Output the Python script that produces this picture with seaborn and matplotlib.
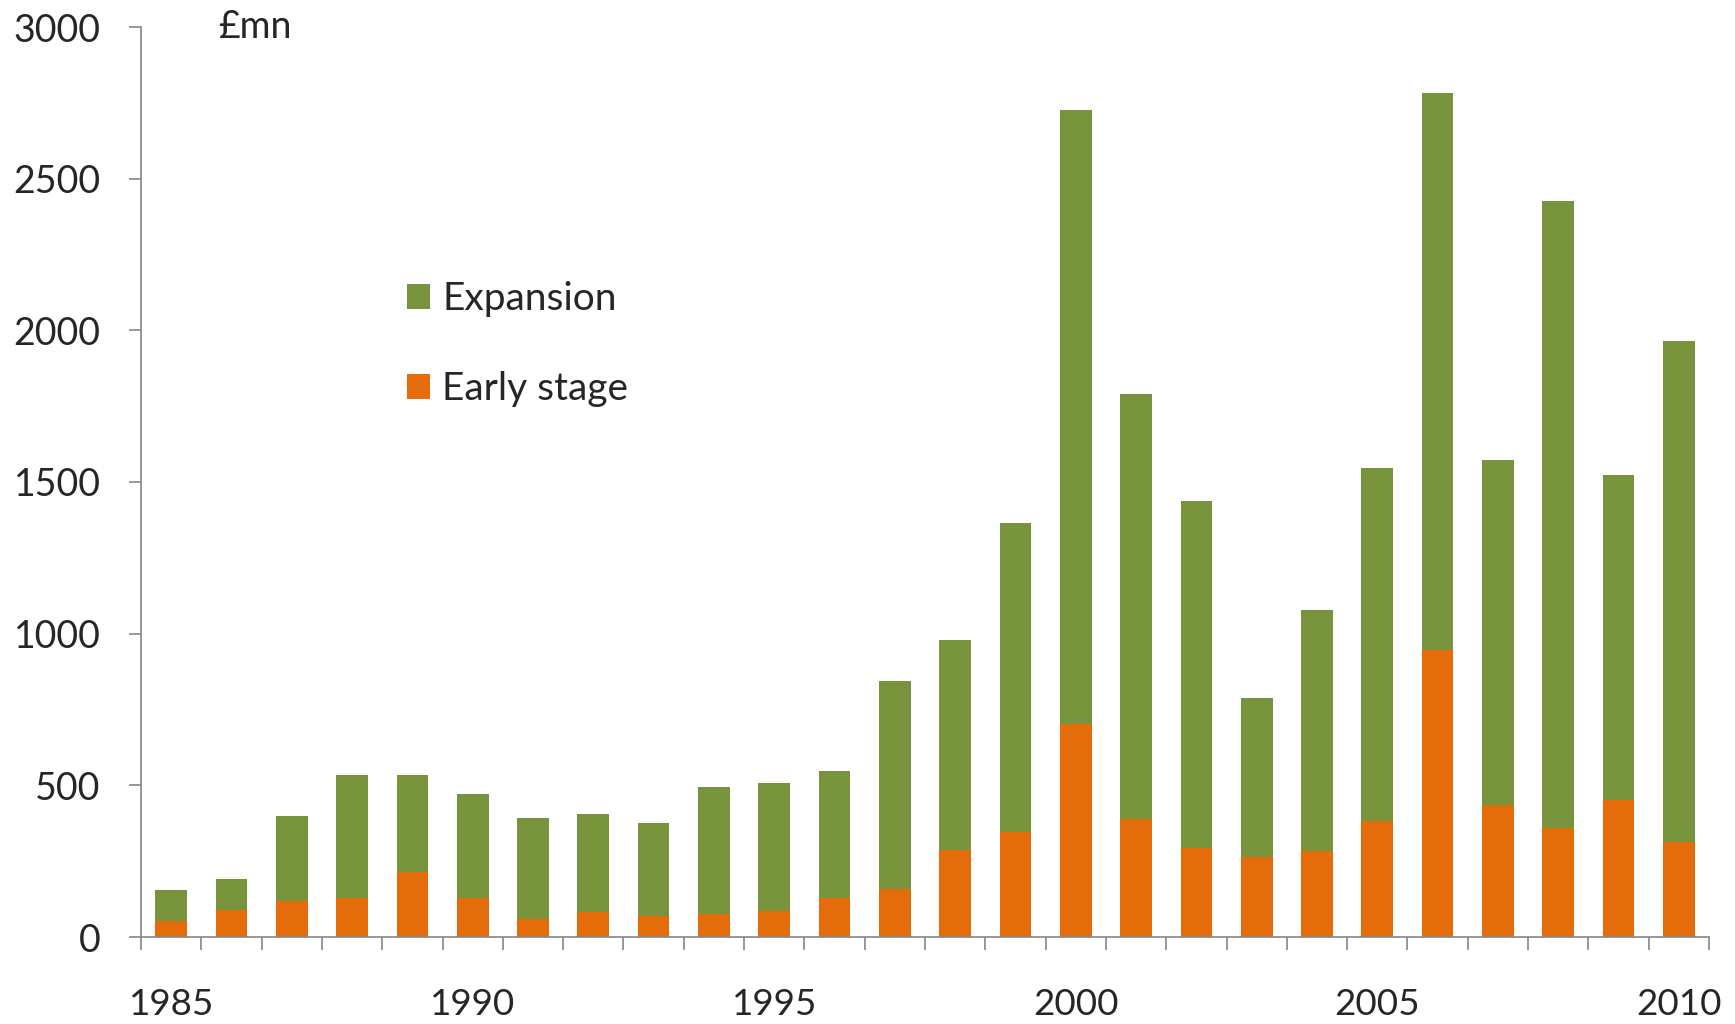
import matplotlib
matplotlib.use("Agg")
import matplotlib.pyplot as plt
from matplotlib.patches import Patch
import seaborn as sns
import pandas as pd

# Venture capital investment by stage, £mn
years = list(range(1985, 2011))
early_stage = [52, 88, 120, 129, 215, 127, 58, 84, 69, 75, 86, 129, 159, 288, 346,
               703, 389, 294, 264, 284, 383, 946, 434, 359, 453, 314]
expansion = [103, 103, 280, 404, 320, 344, 333, 320, 307, 421, 423, 417, 686, 690, 1019,
             2022, 1401, 1142, 523, 795, 1162, 1837, 1137, 2067, 1071, 1652]
y_ticks = [0, 500, 1000, 1500, 2000, 2500, 3000]
x_label_years = [1985, 1990, 1995, 2000, 2005, 2010]

GREEN = "#77933C"
ORANGE = "#E46C0A"
AXIS_GREY = "#868686"

df = pd.DataFrame({
    "year": [str(y) for y in years],
    "early": early_stage,
    "expansion": expansion,
})
df["total"] = df["early"] + df["expansion"]

sns.set_style("white")
plt.rcParams["font.family"] = ["Lato", "DejaVu Sans"]

W, H = 1735, 1024
fig = plt.figure(figsize=(W / 100, H / 100), dpi=100)
left, right, bottom, top = 141, 1709, 937, 27
ax = fig.add_axes([left / W, 1 - bottom / H, (right - left) / W, (bottom - top) / H])

bar_w = 0.525
sns.barplot(data=df, x="year", y="total", color=GREEN, saturation=1,
            width=bar_w, linewidth=0, ax=ax, errorbar=None)
sns.barplot(data=df, x="year", y="early", color=ORANGE, saturation=1,
            width=bar_w, linewidth=0, ax=ax, errorbar=None)

ax.set_xlim(-0.5, len(years) - 0.5)
ax.set_ylim(0, 3000)
ax.set_xlabel("")
ax.set_ylabel("")

# y axis
ax.set_yticks(y_ticks)
ax.set_yticklabels([str(v) for v in y_ticks])
ax.tick_params(axis="y", which="major", direction="out", length=9, width=1.2,
               color=AXIS_GREY, labelsize=27, pad=20, left=True)

# x axis: tick marks between categories, labels every five years
ax.set_xticks([i - 0.5 for i in range(len(years) + 1)])
ax.set_xticklabels([])
ax.set_xticks([years.index(y) for y in x_label_years], minor=True)
ax.set_xticklabels([str(y) for y in x_label_years], minor=True)
ax.tick_params(axis="x", which="major", direction="out", length=9, width=1.2,
               color=AXIS_GREY, bottom=True)
ax.tick_params(axis="x", which="minor", length=0, labelsize=26.5, pad=37, bottom=True)

for side in ["top", "right"]:
    ax.spines[side].set_visible(False)
for side in ["left", "bottom"]:
    ax.spines[side].set_color(AXIS_GREY)
    ax.spines[side].set_linewidth(1.2)

ax.text(218 / W, 1 - 27 / H, "£mn", transform=fig.transFigure, fontsize=27,
        ha="left", va="center")

handles = [Patch(facecolor=GREEN, edgecolor="none"), Patch(facecolor=ORANGE, edgecolor="none")]
ax.legend(handles, ["Expansion", "Early stage"], loc="upper left",
          bbox_to_anchor=(407 / W, 1 - 281 / H), bbox_transform=fig.transFigure,
          frameon=False, fontsize=28, handlelength=0.6, handleheight=0.6,
          handletextpad=0.3, labelspacing=1.4, borderpad=0, borderaxespad=0)

fig.savefig("out.png", dpi=100)
